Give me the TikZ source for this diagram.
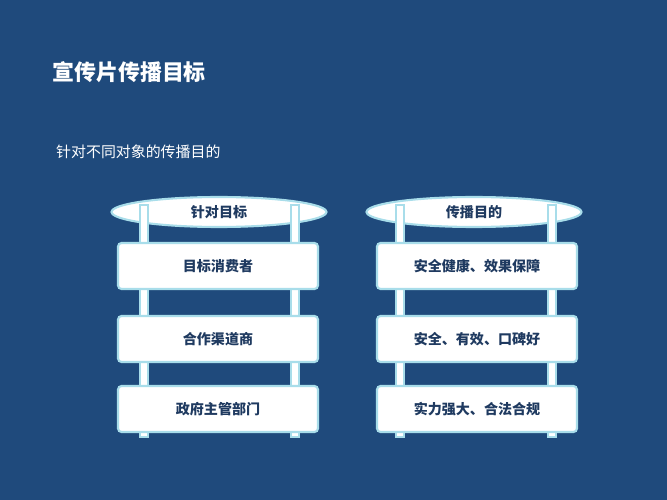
\documentclass[tikz,border=0pt]{standalone}
\usepackage{fontspec}
\newfontfamily\cjk{Noto Sans CJK SC}
\newcommand\cjkb{\cjk\bfseries}
\definecolor{bg}{HTML}{1F4A7C}
\definecolor{ink}{HTML}{1F3A60}
\definecolor{rim}{HTML}{A8DDEA}
\usetikzlibrary{shapes.geometric}
\tikzset{
  post/.style = {draw=rim, fill=white, line width=0.8pt},
  board/.style = {draw=rim, fill=white, line width=1.2pt, rounded corners=2pt,
    minimum width=4cm, minimum height=0.92cm, font=\cjkb\fontsize{8}{9}\selectfont, text=ink},
  lid/.style = {ellipse, draw=rim, fill=white, line width=1.2pt, minimum width=4.3cm,
    minimum height=0.6cm, inner sep=0pt, font=\cjkb\fontsize{8}{9}\selectfont, text=ink}
}
\begin{document}
\begin{tikzpicture}[x=0.02cm,y=-0.02cm]
% Background
\fill[bg] (0,0) rectangle (667,500);

% Titles
\node[anchor=west, text=white, font=\cjkb\fontsize{12.5}{14}\selectfont] (title) at (46,72) {宣传片传播目标};
\node[anchor=west, text=white, font=\cjk\fontsize{8.5}{10}\selectfont] (sub) at (50,152) {针对不同对象的传播目的};

% Left column
\node[lid] (lidL) at (219,212) {};
\draw[post] (140,205) rectangle (148,437);
\draw[post] (291,205) rectangle (299,437);
\node[lid, draw=none, fill=none] (lidLt) at (219,212) {针对目标};
\node[board] (l1) at (218,266) {目标消费者};
\node[board] (l2) at (218,339) {合作渠道商};
\node[board] (l3) at (218,409) {政府主管部门};

% Right column
\node[lid] (lidR) at (474,212) {};
\draw[post] (396,205) rectangle (404,437);
\draw[post] (548,205) rectangle (556,437);
\node[lid, draw=none, fill=none] (lidRt) at (474,212) {传播目的};
\node[board] (r1) at (477,266) {安全健康、效果保障};
\node[board] (r2) at (477,339) {安全、有效、口碑好};
\node[board] (r3) at (477,409) {实力强大、合法合规};
\end{tikzpicture}
\end{document}
